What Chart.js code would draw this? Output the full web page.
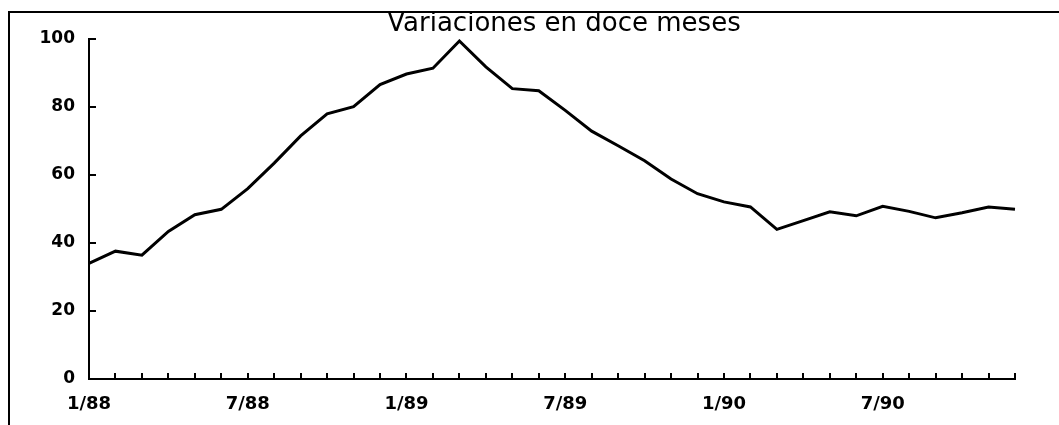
<!DOCTYPE html>
<html>
<head>
<meta charset="utf-8">
<script src="https://cdn.jsdelivr.net/npm/chart.js@4"></script>
<style>
  html, body { margin: 0; padding: 0; background: #fff; }
  #wrap { width: 1059px; height: 425px; }
</style>
</head>
<body>
<div id="wrap"><canvas id="grafico" width="1059" height="425"></canvas></div>
<script>
const meses = [
    '1/88', '2/88', '3/88', '4/88', '5/88', '6/88', '7/88', '8/88', '9/88', '10/88', '11/88', '12/88',
    '1/89', '2/89', '3/89', '4/89', '5/89', '6/89', '7/89', '8/89', '9/89', '10/89', '11/89', '12/89',
    '1/90', '2/90', '3/90', '4/90', '5/90', '6/90', '7/90', '8/90', '9/90', '10/90', '11/90', '12/90'
];
const variacion = [
    34.0, 37.6, 36.4, 43.4, 48.3, 49.9, 56.0, 63.5, 71.5, 78.0, 80.1, 86.6,
    89.7, 91.4, 99.4, 91.8, 85.4, 84.8, 79.0, 72.9, 68.6, 64.2, 58.8, 54.5,
    52.1, 50.6, 44.0, 46.6, 49.2, 48.0, 50.8, 49.3, 47.4, 48.9, 50.6, 49.9
];
const etiquetasX = ['1/88', '7/88', '1/89', '7/89', '1/90', '7/90'];
const titulo = 'Variaciones en doce meses';

const fuente = "'DejaVu Sans', sans-serif";

// marco, titulo y marcas hacia adentro
const extras = {
    id: 'extras',
    beforeDraw(chart) {
        const ctx = chart.ctx;
        ctx.save();
        ctx.fillStyle = '#fff';
        ctx.fillRect(0, 0, chart.width, chart.height);
        ctx.strokeStyle = '#000';
        ctx.lineWidth = 2;
        ctx.beginPath();
        ctx.moveTo(9, chart.height);
        ctx.lineTo(9, 12);
        ctx.lineTo(chart.width, 12);
        ctx.stroke();
        ctx.restore();
    },
    afterDraw(chart) {
        const ctx = chart.ctx;
        const x = chart.scales.x;
        const y = chart.scales.y;
        ctx.save();
        ctx.strokeStyle = '#000';
        ctx.lineWidth = 2;
        ctx.beginPath();
        x.ticks.forEach((t, i) => {
            const px = Math.round(x.getPixelForTick(i));
            ctx.moveTo(px, y.bottom);
            ctx.lineTo(px, y.bottom - 6);
        });
        y.ticks.forEach((t, i) => {
            const py = Math.round(y.getPixelForTick(i));
            ctx.moveTo(x.left, py);
            ctx.lineTo(x.left + 7, py);
        });
        ctx.stroke();
        ctx.fillStyle = '#000';
        ctx.font = '26px ' + fuente;
        ctx.textAlign = 'center';
        ctx.textBaseline = 'middle';
        ctx.fillText(titulo, 564, 24);
        ctx.restore();
    }
};

new Chart(document.getElementById('grafico'), {
    type: 'line',
    data: {
        labels: meses,
        datasets: [{
            data: variacion,
            borderColor: '#000',
            borderWidth: 3,
            pointRadius: 0,
            tension: 0,
            fill: false
        }]
    },
    options: {
        responsive: false,
        animation: false,
        layout: { padding: { left: 0, right: 44, top: 39, bottom: 0 } },
        plugins: {
            legend: { display: false },
            tooltip: { enabled: false }
        },
        scales: {
            x: {
                offset: false,
                grid: { display: false, drawTicks: false },
                border: { display: true, color: '#000', width: 2 },
                afterFit(scale) { scale.height = 46; },
                ticks: {
                    autoSkip: false,
                    maxRotation: 0,
                    padding: 15,
                    color: '#000',
                    font: { family: fuente, size: 18, weight: 'bold' },
                    callback(value, index) {
                        const l = meses[index];
                        return etiquetasX.includes(l) ? l : '';
                    }
                }
            },
            y: {
                min: 0,
                max: 100,
                grid: { display: false, drawTicks: false },
                border: { display: true, color: '#000', width: 2 },
                afterFit(scale) { scale.width = 89; },
                ticks: {
                    stepSize: 20,
                    padding: 14,
                    color: '#000',
                    font: { family: fuente, size: 17, weight: 'bold' }
                }
            }
        }
    },
    plugins: [extras]
});
</script>
</body>
</html>
